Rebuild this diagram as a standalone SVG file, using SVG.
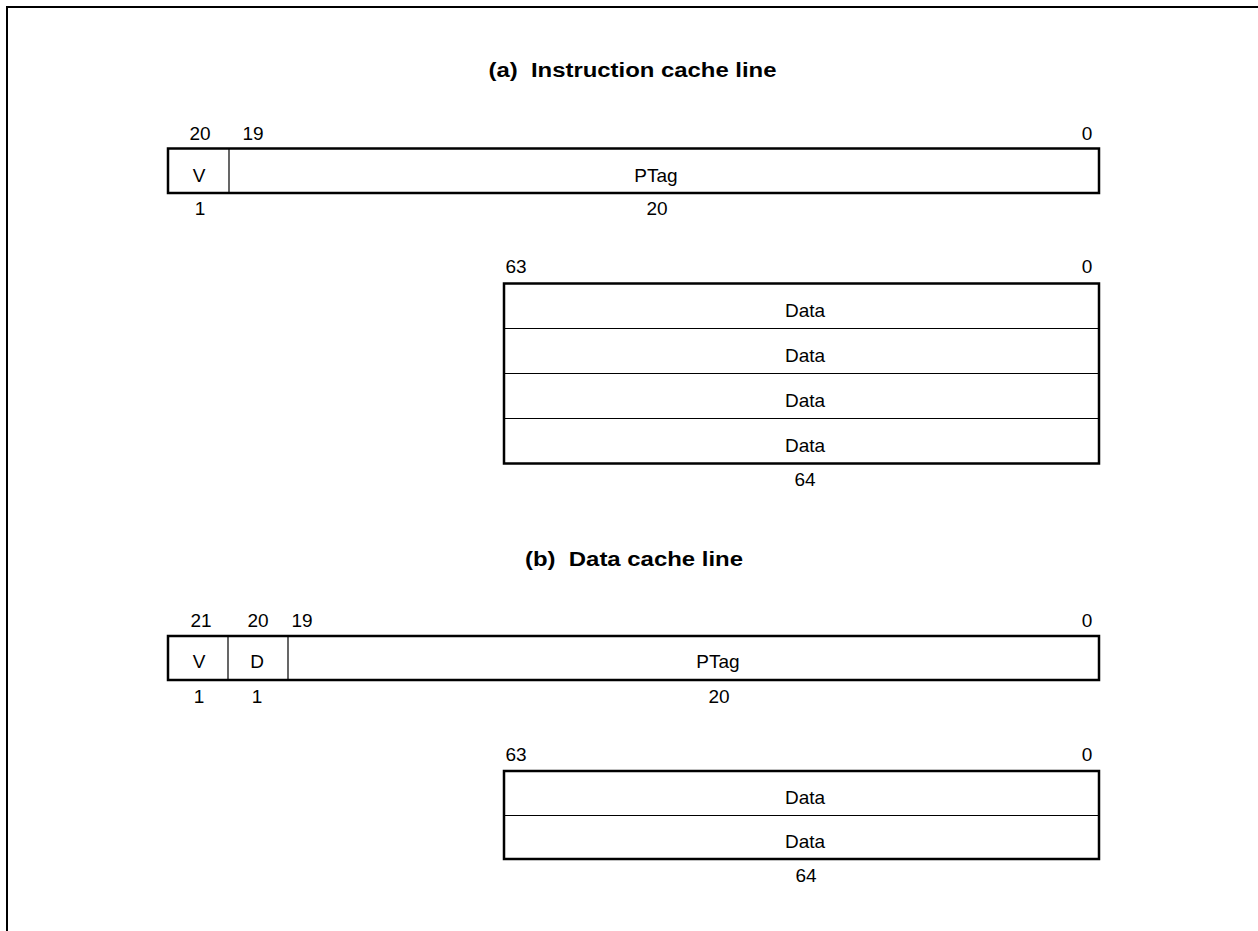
<svg xmlns="http://www.w3.org/2000/svg" width="1258" height="931" viewBox="0 0 1258 931">
<style>
text{font-family:"Liberation Sans",Arial,sans-serif;font-size:19px;fill:#000;text-anchor:middle}
.t{font-weight:bold;font-size:20px}
.box{fill:#fff;stroke:#000;stroke-width:2.5}
.div{stroke:#000;stroke-width:1.2;fill:none}
.frame{stroke:#000;stroke-width:2;fill:none}
</style>
<rect width="1258" height="931" fill="#fff"/>
<path class="frame" d="M7 931 V7 H1258"/>
<text class="t" x="632.5" y="77" textLength="288" lengthAdjust="spacingAndGlyphs">(a)&#160; Instruction cache line</text>
<g id="itag">
<rect class="box" x="168" y="148.5" width="931" height="44.5"/>
<line class="div" x1="229" y1="148.5" x2="229" y2="193"/>
<text x="200" y="140">20</text>
<text x="253" y="140">19</text>
<text x="1087" y="140">0</text>
<text x="199" y="181.5">V</text>
<text x="656" y="181.5">PTag</text>
<text x="200" y="215">1</text>
<text x="657" y="215">20</text>
</g>
<g id="idata">
<rect class="box" x="504" y="283.5" width="595" height="180"/>
<line class="div" x1="504" y1="328.5" x2="1099" y2="328.5"/>
<line class="div" x1="504" y1="373.5" x2="1099" y2="373.5"/>
<line class="div" x1="504" y1="418.5" x2="1099" y2="418.5"/>
<text x="516" y="273">63</text>
<text x="1087" y="273">0</text>
<text x="805" y="317">Data</text>
<text x="805" y="362">Data</text>
<text x="805" y="407">Data</text>
<text x="805" y="452">Data</text>
<text x="805" y="486">64</text>
</g>
<text class="t" x="634" y="566" textLength="218" lengthAdjust="spacingAndGlyphs">(b)&#160; Data cache line</text>
<g id="dtag">
<rect class="box" x="168" y="636" width="931" height="44"/>
<line class="div" x1="228" y1="636" x2="228" y2="680"/>
<line class="div" x1="288" y1="636" x2="288" y2="680"/>
<text x="201" y="627">21</text>
<text x="258" y="627">20</text>
<text x="302" y="627">19</text>
<text x="1087" y="627">0</text>
<text x="199" y="668">V</text>
<text x="257" y="668">D</text>
<text x="718" y="668">PTag</text>
<text x="199" y="703">1</text>
<text x="257" y="703">1</text>
<text x="719" y="703">20</text>
</g>
<g id="ddata">
<rect class="box" x="504" y="771" width="595" height="88"/>
<line class="div" x1="504" y1="815.5" x2="1099" y2="815.5"/>
<text x="516" y="761">63</text>
<text x="1087" y="761">0</text>
<text x="805" y="804">Data</text>
<text x="805" y="848">Data</text>
<text x="806" y="882">64</text>
</g>
<g id="connectors"></g>
</svg>
